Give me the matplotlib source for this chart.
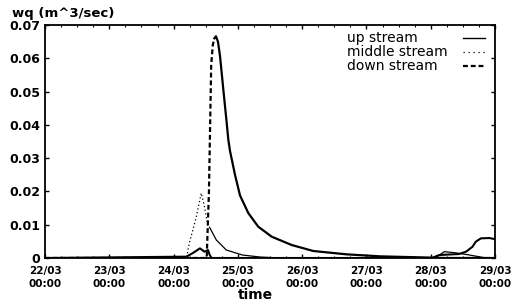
import numpy as np
import matplotlib
matplotlib.use("Agg")
import matplotlib.pyplot as plt
from matplotlib.ticker import MultipleLocator

plt.rcParams['font.family'] = ['DejaVu Sans']

# time in days since 22/03 00:00, discharge in m^3/sec
up_t = [0, 2.20, 2.30, 2.41, 2.48, 2.535, 2.56, 2.59, 6.02, 6.13, 6.44, 6.55, 6.65, 6.70, 6.78, 6.91, 6.99]
up_q = [0, 0.0004, 0.0015, 0.0029, 0.0019, 0.0024, 0.0010, 0, 0, 0.0009, 0.0012, 0.0019, 0.0034, 0.0049, 0.0059, 0.0060, 0.0057]

mid_t = [0, 2.20, 2.25, 2.30, 2.355, 2.43, 2.48, 2.535, 2.56, 2.665, 2.82, 3.07, 3.34, 3.65, 6.07, 6.21, 6.37, 6.57, 6.86, 7.0]
mid_q = [0, 0, 0.0049, 0.0084, 0.0125, 0.0195, 0.0155, 0.0094, 0.0092, 0.0054, 0.0024, 0.0009, 0.0003, 0, 0, 0.0019, 0.0016, 0.0010, 0, 0]

down_t = [0, 2.515, 2.55, 2.585, 2.61, 2.635, 2.659, 2.69, 2.722, 2.773, 2.826, 2.851, 2.877, 2.955, 3.033,
          3.162, 3.317, 3.526, 3.837, 4.173, 4.69, 5.21, 5.83, 6.02, 6.21, 7.0]
down_q = [0, 0, 0.020, 0.058, 0.0640, 0.0660, 0.0666, 0.0650, 0.0607, 0.0507, 0.0406, 0.0356, 0.0322, 0.0250, 0.0188,
          0.0135, 0.0094, 0.0064, 0.0039, 0.0021, 0.0011, 0.0005, 0.0002, 0.0001, 0, 0]

xtick_labels = ["22/03\n00:00", "23/03\n00:00", "24/03\n00:00", "25/03\n00:00",
                "26/03\n00:00", "27/03\n00:00", "28/03\n00:00", "29/03\n00:00"]
yticks = [0, 0.01, 0.02, 0.03, 0.04, 0.05, 0.06, 0.07]
ytick_labels = ["0", "0.01", "0.02", "0.03", "0.04", "0.05", "0.06", "0.07"]
legend_labels = ["up stream", "middle stream", "down stream"]

fig = plt.figure(figsize=(5.12, 3.05), dpi=100)
ax = fig.add_axes([0.0879, 0.1541, 0.879, 0.764])

# the printed plot shows the rising parts broken and the long tails nearly solid
ax.plot(up_t, up_q, color='black', lw=1.5)
ax.plot(mid_t[:9], mid_q[:9], color='black', lw=0.9, linestyle=(0, (1, 2)))
ax.plot(mid_t[8:], mid_q[8:], color='black', lw=0.9)
ax.plot(down_t[:6], down_q[:6], color='black', lw=1.6, linestyle=(0, (2.2, 1.3)))
ax.plot(down_t[5:], down_q[5:], color='black', lw=1.6)

ax.set_xlim(0, 7)
ax.set_ylim(0, 0.07)
ax.set_xticks(range(8))
ax.set_xticklabels(xtick_labels, fontsize=7.5, fontweight='bold', linespacing=1.45)
ax.set_yticks(yticks)
ax.set_yticklabels(ytick_labels, fontsize=9, fontweight='bold')
ax.xaxis.set_minor_locator(MultipleLocator(0.25))
ax.tick_params(which='major', direction='in', top=True, right=True, length=3, width=1)
ax.tick_params(which='minor', direction='in', top=True, bottom=True, length=1.5, width=0.8)
ax.tick_params(axis='x', which='major', pad=5.5)
ax.tick_params(axis='y', which='major', pad=3.5)
for s in ax.spines.values():
    s.set_linewidth(1.3)

fig.text(0.023, 0.944, "wq (m^3/sec)", fontsize=9.5, fontweight='bold', va='baseline')
ax.set_xlabel("time", fontsize=10, fontweight='bold')
ax.xaxis.set_label_coords(0.467, -0.13)

# legend: labels on the left, line samples on the right
styles = [dict(lw=1.0), dict(lw=0.9, linestyle=(0, (1, 3))), dict(lw=1.6, linestyle=(0, (2.2, 1.3)))]
rows_y = [0.927, 0.866, 0.808]
for lab, st, yy in zip(legend_labels, styles, rows_y):
    ax.text(0.671, yy, lab, transform=ax.transAxes, fontsize=10, va='baseline', ha='left')
    ax.plot([0.929, 0.978], [yy + 0.018, yy + 0.018], transform=ax.transAxes,
            color='black', clip_on=False, **st)

fig.savefig("out.png", dpi=100)
